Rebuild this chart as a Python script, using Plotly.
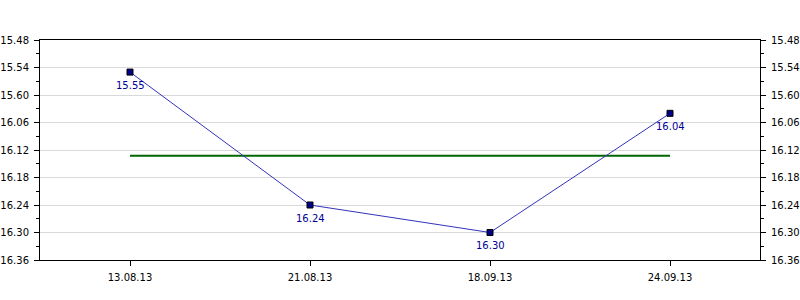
import plotly.graph_objects as go

dates = ["13.08.13", "21.08.13", "18.09.13", "24.09.13"]
times = ["15.55", "16.24", "16.30", "16.04"]
y_ticks = ["15.48", "15.54", "15.60", "16.06", "16.12", "16.18", "16.24", "16.30", "16.36"]


def to_sec(s):
    m, sec = s.split(".")
    return int(m) * 60 + int(sec)


vals = [to_sec(t) for t in times]
tick_vals = [to_sec(t) for t in y_ticks]
avg = sum(vals) / len(vals)
ymin, ymax = min(tick_vals), max(tick_vals)

font = dict(family="DejaVu Sans", size=10, color="#000000")

fig = go.Figure()
fig.add_trace(go.Scatter(
    x=[dates[0], dates[-1]], y=[avg, avg], mode="lines",
    line=dict(color="#006600", width=2), hoverinfo="skip", showlegend=False))
fig.add_trace(go.Scatter(
    x=dates, y=vals, mode="lines+markers",
    line=dict(color="#3333bb", width=1),
    marker=dict(symbol="square", size=6, color="#000088",
                line=dict(color="#000000", width=1)),
    showlegend=False))
fig.add_trace(go.Scatter(x=[dates[0]], y=[avg], yaxis="y2", mode="markers",
                         marker=dict(opacity=0), hoverinfo="skip", showlegend=False))

for d, v, t in zip(dates, vals, times):
    fig.add_annotation(x=d, y=v, text=t, showarrow=False, yshift=-13,
                       font=dict(family="DejaVu Sans", size=10, color="#000099"))

yax = dict(range=[ymax, ymin], tickmode="array", tickvals=tick_vals, ticktext=y_ticks,
           ticks="outside", ticklen=5, tickcolor="#000", showline=True,
           linecolor="#000", linewidth=1, zeroline=False, tickfont=font,
           automargin=False, ticklabelstandoff=3,
           minor=dict(tickmode="array",
                      tickvals=[(a + b) / 2 for a, b in zip(tick_vals[:-1], tick_vals[1:])],
                      ticks="outside", ticklen=3, tickcolor="#000", showgrid=False))

fig.update_layout(
    width=800, height=300, margin=dict(l=40, r=40, t=40, b=40),
    plot_bgcolor="#ffffff", paper_bgcolor="#ffffff",
    xaxis=dict(type="category", categoryorder="array", categoryarray=dates,
               range=[-0.5, len(dates) - 0.5], showgrid=False, ticks="outside",
               ticklen=5, tickcolor="#000", showline=True, linecolor="#000",
               linewidth=1, mirror=True, tickfont=font, automargin=False,
               ticklabelstandoff=3),
    yaxis=dict(**yax, side="left", showgrid=True, gridcolor="#d9d9d9", gridwidth=1),
    yaxis2=dict(**yax, side="right", overlaying="y", showgrid=False),
)

fig.write_html("out.html")
